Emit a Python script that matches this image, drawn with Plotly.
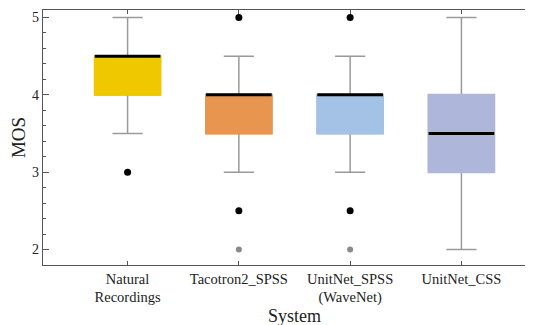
import plotly.graph_objects as go

systems = ["Natural<br>Recordings", "Tacotron2_SPSS", "UnitNet_SPSS<br>(WaveNet)", "UnitNet_CSS"]
q1 = [4.0, 3.5, 3.5, 3.0]
median = [4.5, 4.0, 4.0, 3.5]
q3 = [4.5, 4.0, 4.0, 4.0]
lower_fence = [3.5, 3.0, 3.0, 2.0]
upper_fence = [5.0, 4.5, 4.5, 5.0]
box_colors = ["#F0C800", "#E8964F", "#A3C2E6", "#AEB6D9"]

outlier_x = ["Natural<br>Recordings", "Tacotron2_SPSS", "Tacotron2_SPSS",
             "UnitNet_SPSS<br>(WaveNet)", "UnitNet_SPSS<br>(WaveNet)"]
outlier_y = [3.0, 5.0, 2.5, 5.0, 2.5]
far_outlier_x = ["Tacotron2_SPSS", "UnitNet_SPSS<br>(WaveNet)"]
far_outlier_y = [2.0, 2.0]

BW = 0.59
fig = go.Figure()
for i, s in enumerate(systems):
    # whiskers + box
    fig.add_trace(go.Box(
        x=[s], q1=[q1[i]], median=[median[i]], q3=[q3[i]],
        lowerfence=[lower_fence[i]], upperfence=[upper_fence[i]],
        fillcolor=box_colors[i], line=dict(color="#9a9a9a", width=1.5),
        width=BW, whiskerwidth=0.46, boxpoints=False, showlegend=False, hoverinfo="skip"))
    # cover box outline with fill colour
    fig.add_trace(go.Box(
        x=[s], q1=[q1[i]], median=[q1[i]], q3=[q3[i]],
        lowerfence=[q1[i]], upperfence=[q3[i]],
        fillcolor=box_colors[i], line=dict(color=box_colors[i], width=2),
        width=BW, whiskerwidth=0, boxpoints=False, showlegend=False, hoverinfo="skip"))
    # median line
    fig.add_trace(go.Box(
        x=[s], q1=[median[i]], median=[median[i]], q3=[median[i]],
        lowerfence=[median[i]], upperfence=[median[i]],
        fillcolor="black", line=dict(color="black", width=3),
        width=BW, whiskerwidth=0, boxpoints=False, showlegend=False, hoverinfo="skip"))

fig.add_trace(go.Scatter(x=outlier_x, y=outlier_y, mode="markers",
                         marker=dict(color="black", size=7), showlegend=False))
fig.add_trace(go.Scatter(x=far_outlier_x, y=far_outlier_y, mode="markers",
                         marker=dict(color="#8a8a8a", size=6), showlegend=False))

font_family = "Liberation Serif"
fig.update_layout(
    width=541, height=325,
    margin=dict(l=35, r=3, t=1.5, b=67.5, autoexpand=False),
    plot_bgcolor="white", paper_bgcolor="white",
    font=dict(family=font_family, color="#222222"),
    boxmode="overlay",
    xaxis=dict(
        type="category", range=[-0.76, 3.76],
        showline=True, linecolor="#555555", linewidth=1.3, mirror="ticks",
        ticks="inside", ticklen=4, tickcolor="#555555", tickwidth=1,
        showgrid=False, zeroline=False, automargin=False,
        tickfont=dict(size=14.5, family=font_family, color="#222222"),
        title=dict(text="System", font=dict(size=18, family=font_family, color="#222222"), standoff=0),
    ),
    yaxis=dict(
        range=[1.8, 5.097], tickvals=[2, 3, 4, 5],
        showline=True, linecolor="#555555", linewidth=1.3, mirror="ticks",
        ticks="inside", ticklen=6, tickcolor="#555555", tickwidth=1,
        minor=dict(dtick=0.2, ticks="inside", ticklen=3, tickcolor="#555555", showgrid=False),
        showgrid=False, zeroline=False, automargin=False,
        tickfont=dict(size=14, family=font_family, color="#222222"),
        title=dict(text="MOS", font=dict(size=19, family=font_family, color="#222222"), standoff=6),
    ),
)

fig.write_html("out.html")
